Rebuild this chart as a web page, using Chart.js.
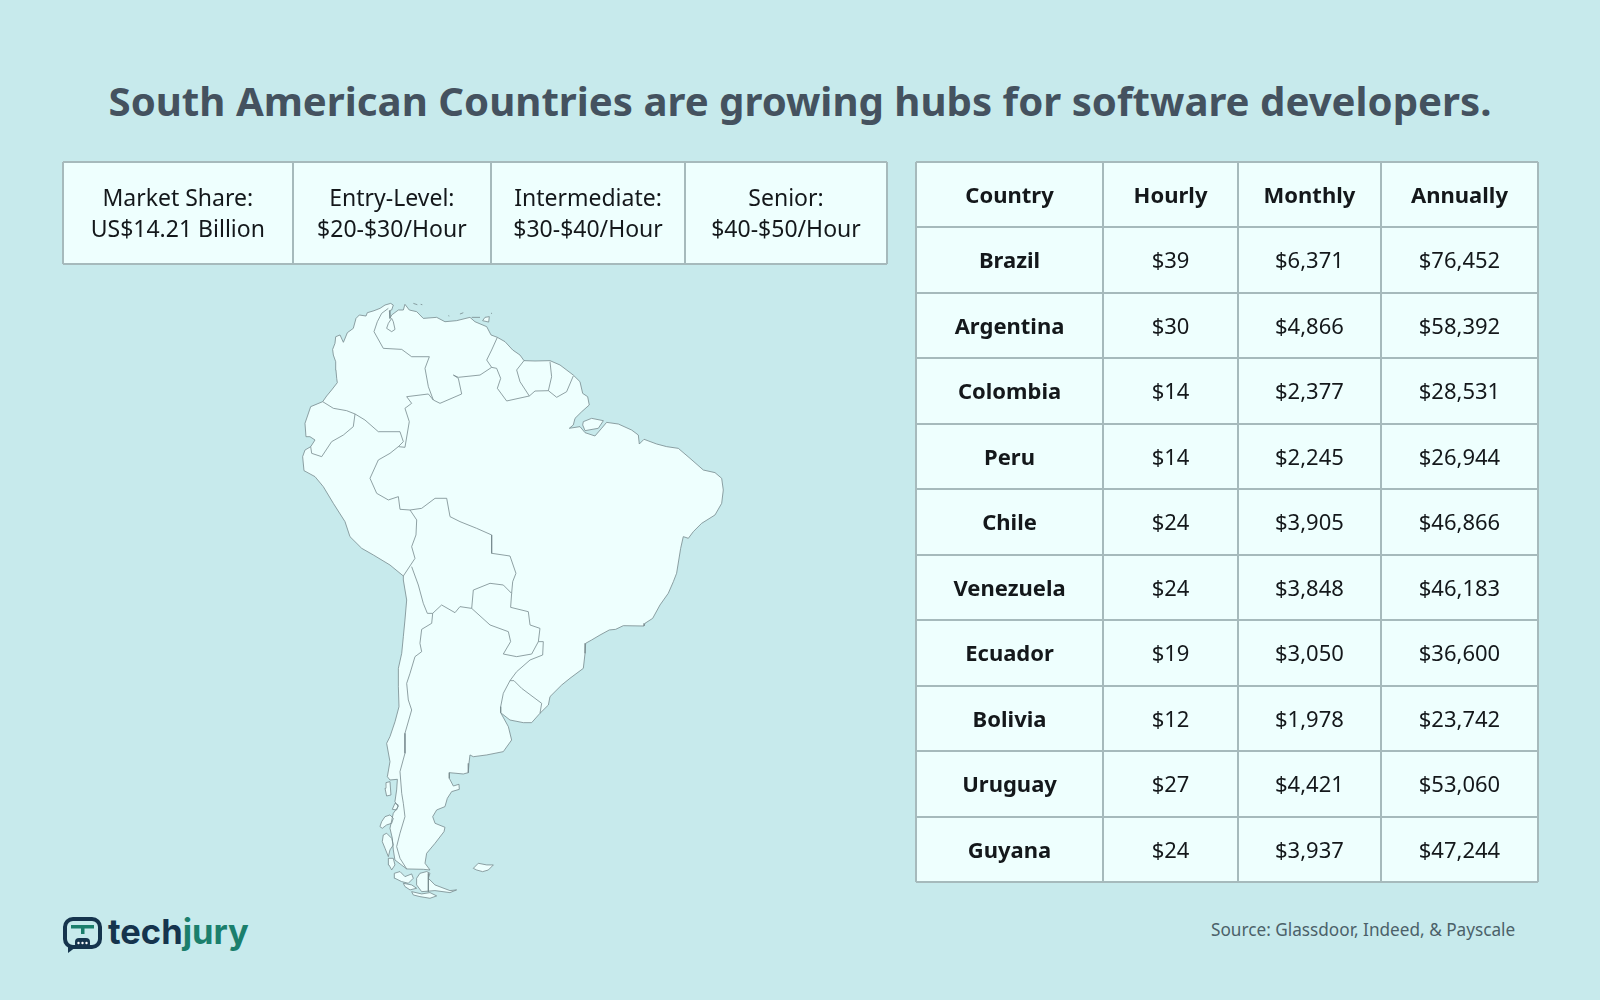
<!DOCTYPE html>
<html>
<head>
<meta charset="utf-8">
<title>South American Countries</title>
<script src="https://cdn.jsdelivr.net/npm/chart.js@4"></script>
<style>
    html, body { margin: 0; padding: 0; width: 1600px; height: 1000px; overflow: hidden; background: #c7eaec; font-family: "Noto Sans", sans-serif; }
    canvas { position: absolute; }
    h1 { position: absolute; left: 0; top: 71px; width: 1600px; margin: 0; text-align: center; font-size: 40.2px; line-height: 60px; font-weight: 700; color: #44525f; white-space: nowrap; }
    .source { position: absolute; left: 1211px; top: 918px; font-size: 17.2px; line-height: 24px; color: #4b6169; white-space: nowrap; }
    .brand { position: absolute; left: 108px; top: 908px; font-family: Inter, sans-serif; font-size: 34.5px; line-height: 48px; font-weight: 700; color: #15344d; white-space: nowrap; }
    .brand span { color: #1b7f6c; }
    svg { position: absolute; left: 60px; top: 912px; }
</style>
</head>
<body>
<h1>South American Countries are growing hubs for software developers.</h1>
<canvas id="kpi-table"></canvas>
<canvas id="map-chart"></canvas>
<canvas id="pay-table"></canvas>
<svg width="46" height="46" viewBox="0 0 46 46">
    <rect x="5" y="7" width="35" height="28" rx="8" fill="none" stroke="#15344d" stroke-width="4"/>
    <path d="M8 33 L8 41 L16 35 Z" fill="#15344d"/>
    <rect x="11" y="13" width="23" height="3.5" fill="#1b7f6c"/>
    <rect x="21" y="16" width="3.5" height="6" fill="#1b7f6c"/>
    <rect x="15" y="26" width="15" height="10" rx="4" fill="#15344d"/>
    <circle cx="18.5" cy="31" r="1.2" fill="#fff"/><circle cx="22.5" cy="31" r="1.2" fill="#fff"/><circle cx="26.5" cy="31" r="1.2" fill="#fff"/>
</svg>
<div class="brand">tech<span>jury</span></div>
<div class="source">Source: Glassdoor, Indeed, &amp; Payscale</div>

<script>
// table data
const kpiText = ['Market Share:\nUS$14.21 Billion', 'Entry-Level:\n$20-$30/Hour', 'Intermediate:\n$30-$40/Hour', 'Senior:\n$40-$50/Hour'];
const tableColumns = ['Country', 'Hourly', 'Monthly', 'Annually'];
const countries = ['Brazil', 'Argentina', 'Colombia', 'Peru', 'Chile', 'Venezuela', 'Ecuador', 'Bolivia', 'Uruguay', 'Guyana'];
const hourly = ['$39', '$30', '$14', '$14', '$24', '$24', '$19', '$12', '$27', '$24'];
const monthly = ['$6,371', '$4,866', '$2,377', '$2,245', '$3,905', '$3,848', '$3,050', '$1,978', '$4,421', '$3,937'];
const annually = ['$76,452', '$58,392', '$28,531', '$26,944', '$46,866', '$46,183', '$36,600', '$23,742', '$53,060', '$47,244'];

// map data, [longitude, latitude]
const coastline = [[-79.12,1.15],[-78.68,1.80],[-78.13,2.49],[-77.50,3.33],[-77.57,3.82],[-77.65,4.78],[-77.68,5.73],[-77.94,6.49],[-78.02,7.14],[-77.76,7.83],[-77.68,8.59],[-77.20,8.79],[-76.83,7.95],[-76.72,8.21],[-76.39,9.05],[-75.73,9.55],[-75.43,10.69],[-75.06,11.08],[-74.32,10.96],[-74.18,11.34],[-73.44,11.57],[-72.77,11.84],[-72.22,12.22],[-71.59,12.41],[-71.30,12.22],[-71.48,11.65],[-71.74,11.57],[-71.67,10.69],[-71.48,11.08],[-70.74,11.65],[-70.19,11.65],[-70.01,12.30],[-69.53,11.65],[-68.71,11.46],[-67.98,10.69],[-66.50,10.81],[-65.58,10.31],[-64.29,10.43],[-62.81,10.81],[-62.26,10.31],[-60.96,9.74],[-60.48,8.79],[-59.78,8.52],[-58.93,8.02],[-58.08,7.07],[-57.27,6.49],[-56.83,5.85],[-55.61,5.81],[-53.95,5.85],[-52.84,5.35],[-51.37,4.20],[-50.63,3.44],[-50.33,2.10],[-49.78,1.72],[-49.60,0.77],[-50.44,0.00],[-51.18,-0.76],[-51.37,-1.52],[-51.81,-1.90],[-50.63,-1.71],[-50.07,-2.40],[-48.97,-2.78],[-48.23,-1.90],[-47.68,-1.22],[-46.38,-1.41],[-44.91,-2.10],[-44.17,-2.67],[-44.06,-3.70],[-43.54,-3.16],[-42.14,-3.70],[-41.03,-4.00],[-39.74,-4.20],[-38.45,-5.34],[-36.97,-6.68],[-35.68,-6.98],[-34.94,-7.63],[-34.76,-8.97],[-34.94,-10.50],[-35.68,-11.83],[-37.16,-12.79],[-38.08,-13.74],[-38.63,-14.50],[-39.19,-14.31],[-39.48,-15.65],[-39.93,-18.51],[-40.29,-19.47],[-40.85,-20.80],[-41.77,-22.14],[-42.58,-23.67],[-43.43,-24.24],[-43.54,-24.55],[-45.83,-24.51],[-46.68,-24.93],[-47.38,-25.00],[-48.41,-25.58],[-49.34,-26.15],[-50.00,-26.53],[-50.07,-27.68],[-50.26,-29.40],[-51.74,-30.54],[-52.66,-31.31],[-53.95,-32.64],[-54.13,-33.60],[-55.06,-34.55],[-55.98,-35.62],[-56.90,-35.62],[-58.38,-35.32],[-59.41,-34.48],[-58.56,-36.08],[-58.20,-37.61],[-59.12,-38.94],[-60.96,-39.32],[-62.44,-39.52],[-62.81,-39.32],[-62.92,-40.28],[-63.00,-41.35],[-63.55,-41.50],[-65.10,-41.35],[-65.10,-42.00],[-64.65,-42.88],[-64.03,-42.68],[-63.99,-43.26],[-64.84,-43.52],[-65.32,-44.29],[-65.58,-45.24],[-66.50,-45.62],[-66.94,-46.39],[-66.68,-47.15],[-65.58,-47.61],[-65.69,-48.11],[-66.68,-49.44],[-67.61,-50.59],[-67.79,-51.73],[-67.24,-52.50],[-67.98,-52.42],[-69.82,-52.38],[-71.12,-51.35],[-71.30,-50.20],[-71.41,-48.87],[-71.67,-47.72],[-71.30,-46.00],[-70.75,-45.24],[-71.12,-44.67],[-70.93,-43.33],[-70.85,-42.11],[-71.67,-42.19],[-71.96,-41.81],[-71.67,-40.09],[-72.04,-37.99],[-71.67,-37.22],[-71.11,-35.51],[-70.67,-33.79],[-70.74,-31.50],[-70.74,-29.40],[-70.37,-27.68],[-70.19,-25.77],[-70.01,-23.86],[-69.82,-21.57],[-70.19,-19.28],[-70.19,-18.82],[-71.67,-17.56],[-73.51,-16.41],[-74.80,-15.65],[-76.10,-14.31],[-76.65,-12.59],[-77.94,-10.50],[-79.05,-8.59],[-79.97,-7.44],[-81.19,-6.75],[-81.34,-5.15],[-81.08,-4.39],[-80.45,-4.01],[-79.97,-3.24],[-80.53,-2.86],[-80.97,-2.86],[-81.08,-1.33],[-80.45,0.58],[-79.12,1.15]];
const borders = [
    [[-79.12,1.15],[-77.94,0.39],[-76.47,0.12],[-75.54,-0.26]],
    [[-75.54,-0.26],[-75.73,-1.71],[-76.83,-2.67],[-78.13,-3.43],[-79.23,-5.15],[-80.34,-4.77],[-80.45,-4.01]],
    [[-75.54,-0.26],[-74.44,-0.95],[-72.96,-2.29],[-71.67,-2.29],[-70.56,-2.29],[-70.19,-3.43],[-70.74,-4.00]],
    [[-70.01,-4.08],[-70.74,-4.00],[-71.67,-4.77],[-72.96,-5.53],[-73.88,-7.63],[-73.14,-9.35],[-71.85,-10.11],[-70.74,-9.73],[-70.56,-11.18],[-69.45,-11.26]],
    [[-70.01,-4.08],[-69.53,-1.14],[-70.01,0.39],[-69.27,0.96],[-69.82,1.72],[-67.42,2.03],[-66.87,1.34]],
    [[-71.85,11.84],[-72.59,11.27],[-73.07,10.31],[-73.44,9.17],[-72.41,7.26],[-70.37,7.14],[-69.27,6.30],[-67.31,6.30],[-67.79,4.97],[-67.42,2.87],[-66.87,1.34]],
    [[-66.87,1.34],[-66.13,0.96],[-63.73,2.03],[-64.10,3.82],[-64.65,4.20],[-64.10,3.94],[-61.70,4.20],[-60.41,5.08]],
    [[-60.41,5.08],[-60.96,5.92],[-60.41,7.07],[-59.78,8.52]],
    [[-60.41,5.08],[-59.86,4.97],[-59.41,3.82],[-59.78,2.68],[-58.75,1.23],[-56.24,1.80]],
    [[-56.83,5.85],[-57.64,4.78],[-57.27,3.44],[-56.24,1.80]],
    [[-56.24,1.80],[-55.61,2.37],[-54.13,2.41]],
    [[-53.95,5.73],[-53.77,4.01],[-54.13,2.41]],
    [[-54.13,2.41],[-53.21,1.65],[-52.11,2.29],[-51.37,4.09]],
    [[-69.45,-11.26],[-68.16,-11.07],[-66.68,-9.92],[-65.39,-9.92],[-65.02,-12.02],[-63.92,-12.59],[-62.07,-13.36],[-60.41,-14.12],[-60.41,-16.22],[-58.38,-16.53],[-57.72,-18.51],[-58.08,-19.47],[-58.20,-20.81]],
    [[-69.45,-11.26],[-68.71,-12.40],[-68.79,-14.12],[-69.27,-15.46],[-68.90,-16.80],[-70.19,-18.82]],
    [[-69.27,-17.75],[-68.53,-19.85],[-67.98,-21.95],[-67.53,-23.10],[-66.94,-23.10]],
    [[-66.94,-23.10],[-67.05,-24.24],[-68.16,-24.93],[-68.35,-26.53],[-68.16,-27.49],[-68.90,-28.06],[-69.45,-29.97],[-69.82,-31.12],[-69.64,-33.02],[-69.27,-34.17],[-70.01,-36.84],[-70.01,-39.13],[-70.56,-41.23],[-70.37,-43.72],[-70.19,-44.86],[-70.01,-46.39],[-70.56,-48.29],[-70.93,-49.82],[-70.56,-51.16],[-69.82,-52.38]],
    [[-67.42,-52.88],[-67.42,-54.98]],
    [[-66.94,-23.10],[-65.95,-22.14],[-64.47,-23.02],[-63.92,-22.33],[-62.62,-22.53]],
    [[-62.62,-22.53],[-62.44,-20.43],[-60.59,-19.66],[-59.12,-19.85],[-58.20,-20.81]],
    [[-58.20,-20.81],[-58.31,-22.41],[-56.35,-22.91],[-56.16,-24.43],[-55.06,-24.82],[-55.24,-26.34]],
    [[-62.62,-22.53],[-60.59,-24.43],[-58.56,-25.20],[-58.31,-26.34],[-59.12,-27.76],[-57.64,-28.06],[-55.98,-27.76],[-55.24,-26.34]],
    [[-55.24,-26.34],[-54.69,-26.34],[-54.76,-27.87],[-56.16,-28.44],[-57.64,-29.78],[-58.38,-30.81]],
    [[-58.38,-30.81],[-57.94,-30.81],[-57.09,-31.69],[-54.87,-33.41],[-55.06,-34.55]],
    [[-58.38,-30.81],[-59.12,-32.26],[-59.41,-33.79],[-59.41,-34.48]]
];
const islands = [
    [[-68.72,-53.45],[-68.35,-52.88],[-67.61,-52.68],[-67.24,-52.88],[-67.42,-53.45],[-66.69,-54.21],[-65.03,-54.86],[-64.29,-54.78],[-65.03,-55.09],[-66.69,-54.86],[-68.16,-54.98],[-68.72,-54.21],[-68.72,-53.45]],
    [[-69.27,-54.98],[-68.16,-55.24],[-67.24,-55.09],[-66.50,-55.47],[-67.24,-55.74],[-68.35,-55.55],[-69.09,-55.36],[-69.27,-54.98]],
    [[-72.11,-42.49],[-71.67,-42.38],[-71.56,-43.91],[-72.04,-44.02],[-72.22,-43.14],[-72.11,-42.49]],
    [[-62.44,-52.31],[-61.89,-51.73],[-60.96,-51.92],[-60.22,-51.92],[-60.78,-52.50],[-61.41,-52.69],[-62.07,-52.50],[-62.44,-52.31]],
    [[-72.59,-46.96],[-72.22,-46.39],[-71.67,-46.19],[-71.30,-46.58],[-71.48,-47.15],[-72.04,-47.34],[-72.52,-47.72],[-72.78,-47.53],[-72.59,-46.96]],
    [[-71.12,-44.86],[-70.75,-45.05],[-70.93,-45.62],[-71.41,-45.55],[-71.12,-44.86]],
    [[-72.41,-48.49],[-72.04,-48.29],[-71.48,-48.87],[-71.30,-49.63],[-71.67,-50.20],[-71.85,-50.97],[-72.22,-50.01],[-72.52,-49.25],[-72.41,-48.49]],
    [[-71.85,-51.16],[-71.30,-51.16],[-71.12,-51.92],[-71.48,-52.49],[-71.78,-51.92],[-71.85,-51.16]],
    [[-71.19,-52.88],[-70.56,-52.68],[-70.01,-53.26],[-69.27,-52.95],[-69.09,-53.45],[-69.64,-54.02],[-70.38,-53.83],[-71.12,-53.45],[-71.19,-52.88]],
    [[-70.19,-54.02],[-69.27,-54.21],[-68.72,-54.59],[-69.45,-54.78],[-70.01,-54.40],[-70.19,-54.02]],
    [[-50.26,-1.14],[-49.34,-0.76],[-48.04,-1.03],[-48.60,-1.90],[-50.07,-2.17],[-50.33,-1.52],[-50.26,-1.14]],
    [[-61.41,10.43],[-61.15,10.81],[-60.67,10.89],[-60.74,10.27],[-61.41,10.43]],
    [[-71.48,10.69],[-71.85,10.12],[-72.04,9.55],[-71.48,9.17],[-71.11,9.43],[-71.30,10.31],[-71.48,10.69]],
    [[-69.08,12.41],[-68.64,12.26]],
    [[-68.27,12.30],[-68.09,12.26]],
    [[-65.21,11.00],[-65.10,10.96]],
    [[-63.92,11.19],[-63.55,11.34]],
    [[-62.62,10.81],[-61.70,10.81]],
    [[-60.48,11.27],[-60.37,11.27]]
];

const cellFill = '#eefffe';
const gridColor = '#a6babc';
const textColor = '#14181b';
const toPoints = line => line.map(([x, y]) => ({ x, y }));

// fills the cell area behind the grid and writes the text at each point
const cellPlugin = {
    id: 'cells',
    beforeDraw(chart) {
        const a = chart.chartArea;
        chart.ctx.fillStyle = cellFill;
        chart.ctx.fillRect(a.left, a.top, a.width, a.height);
    },
    afterDatasetsDraw(chart, args, opts) {
        const ctx = chart.ctx;
        ctx.save();
        ctx.textAlign = 'center';
        ctx.textBaseline = 'middle';
        ctx.fillStyle = textColor;
        chart.data.datasets.forEach((ds, i) => {
            chart.getDatasetMeta(i).data.forEach((el, j) => {
                const cell = ds.data[j];
                ctx.font = `${cell.bold ? 700 : 400} ${opts.size}px "Noto Sans"`;
                const lines = cell.text.split('\n');
                lines.forEach((t, k) => {
                    ctx.fillText(t, el.x, el.y + opts.shift + (k - (lines.length - 1) / 2) * opts.lineHeight);
                });
            });
        });
        ctx.restore();
    }
};

const makeTable = (id, left, top, widths, rows, cells, size, lineHeight, height) => {
    const canvas = document.getElementById(id);
    const pad = 2;
    const total = widths.reduce((a, b) => a + b, 0);
    canvas.width = total + pad * 2;
    canvas.height = height + pad * 2;
    canvas.style.left = (left - pad) + 'px';
    canvas.style.top = (top - pad) + 'px';
    const edges = widths.reduce((acc, w) => acc.concat(acc[acc.length - 1] + w), [0]);
    const data = cells.map(c => ({ x: (edges[c.col] + edges[c.col + 1]) / 2, y: c.row, text: c.text, bold: c.bold }));
    return new Chart(canvas, {
        type: 'scatter',
        data: { datasets: [{ data, pointRadius: 0 }] },
        plugins: [cellPlugin],
        options: {
            responsive: false,
            animation: false,
            layout: { padding: pad },
            plugins: { legend: { display: false }, tooltip: { enabled: false }, cells: { size, lineHeight, shift: 2 } },
            scales: {
                x: {
                    type: 'linear',
                    min: 0,
                    max: total,
                    afterBuildTicks: scale => { scale.ticks = edges.map(value => ({ value })); },
                    grid: { color: gridColor, lineWidth: 2, drawTicks: false },
                    border: { display: false },
                    ticks: { display: false }
                },
                y: {
                    type: 'category',
                    labels: rows,
                    offset: true,
                    grid: { color: gridColor, lineWidth: 2, offset: true, drawTicks: false },
                    border: { display: false },
                    ticks: { display: false }
                }
            }
        }
    });
};

makeTable('kpi-table', 62.7, 161.7, [229.6, 198.5, 193.9, 202], ['kpi'],
    kpiText.map((text, col) => ({ col, row: 'kpi', text, bold: false })), 23, 31, 102.6);

const payRows = ['head', ...countries];
const payCells = tableColumns.map((text, col) => ({ col, row: 'head', text, bold: true }));
countries.forEach((c, i) => {
    payCells.push({ col: 0, row: c, text: c, bold: true });
    payCells.push({ col: 1, row: c, text: hourly[i], bold: false });
    payCells.push({ col: 2, row: c, text: monthly[i], bold: false });
    payCells.push({ col: 3, row: c, text: annually[i], bold: false });
});
makeTable('pay-table', 915.5, 161.7, [187.2, 135, 143, 157.2], payRows, payCells, 22, 30, 720);

// map: land is filled from the coastline dataset's own points
const mapFill = {
    id: 'mapFill',
    beforeDatasetsDraw(chart) {
        const ctx = chart.ctx;
        chart.data.datasets.forEach((ds, i) => {
            if (!ds.land) return;
            const pts = chart.getDatasetMeta(i).data;
            ctx.beginPath();
            pts.forEach((p, j) => (j ? ctx.lineTo(p.x, p.y) : ctx.moveTo(p.x, p.y)));
            ctx.closePath();
            ctx.fillStyle = cellFill;
            ctx.fill();
        });
    }
};
const mapLine = (data, land) => ({ data: toPoints(data), land, showLine: true, borderColor: '#76898d', borderWidth: 0.8, pointRadius: 0, tension: 0 });

const mapCanvas = document.getElementById('map-chart');
mapCanvas.width = 450;
mapCanvas.height = 610;
mapCanvas.style.left = '290px';
mapCanvas.style.top = '295px';
new Chart(mapCanvas, {
    type: 'scatter',
    data: { datasets: [mapLine(coastline, true), ...islands.map(l => mapLine(l, true)), ...borders.map(l => mapLine(l, false))] },
    plugins: [mapFill],
    options: {
        responsive: false,
        animation: false,
        plugins: { legend: { display: false }, tooltip: { enabled: false } },
        scales: {
            x: { type: 'linear', display: false, min: -82.74, max: -32.91 },
            y: { type: 'linear', display: false, min: -56.51, max: 13.37 }
        }
    }
});
</script>
</body>
</html>
